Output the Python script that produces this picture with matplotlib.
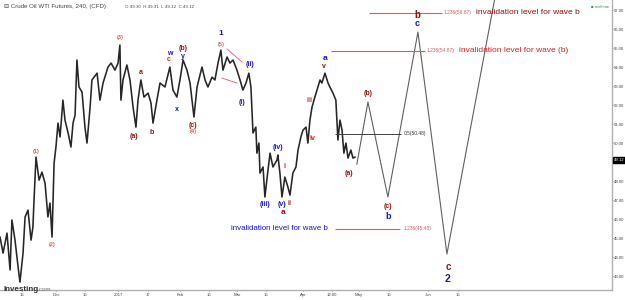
import matplotlib
matplotlib.use("Agg")
from matplotlib import pyplot as plt

plt.rcParams['font.family'] = ['Liberation Sans', 'DejaVu Sans']

# price path (4h candles, traced): x = days since Nov 1 2016
days = [3.3, 4.8, 6.7, 8.2, 9.1, 10.6, 12.1, 13.0, 14.5, 15.5, 16.9, 18.4, 19.3, 19.8,
        20.8, 22.3, 23.7, 25.2, 26.6, 27.6, 28.6, 29.6, 30.5, 31.5, 32.5, 33.9, 34.9,
        36.4, 37.8, 38.8, 39.8, 40.7, 41.7, 43.2, 44.6, 45.6, 47.1, 48.0, 50.5, 51.9,
        53.4, 55.8, 57.3, 59.2, 60.7, 61.6, 62.1, 63.1, 65.0, 66.5, 68.0, 69.4, 70.4,
        71.8, 73.3, 75.3, 76.7, 77.7, 79.6, 81.1, 83.5, 85.9, 87.4, 89.3, 90.8, 92.3,
        94.2, 95.7, 97.6, 99.1, 101.5, 103.0, 104.4, 106.4, 107.8, 109.3, 110.7, 111.7,
        113.7, 115.1, 116.6, 118.5, 120.0, 121.4, 122.9, 124.3, 125.3, 126.3, 127.7,
        128.2, 129.2, 129.7, 131.2, 132.1, 133.6, 134.6, 136.0, 138.0, 138.4, 139.4,
        140.4, 141.8, 143.3, 144.3, 145.7, 147.2, 148.2, 149.6, 150.6, 152.1, 153.0,
        154.0, 155.0, 156.4, 157.9, 158.9, 159.8, 161.3, 162.8, 163.7, 165.2, 166.6,
        167.6, 168.6, 169.6, 170.5, 171.5, 172.5, 173.9, 174.9, 175.9]
price = [45.05, 44.21, 45.26, 43.32, 45.95, 44.89, 43.47, 42.68, 44.21, 46.11, 46.47, 44.89,
         45.58, 46.89, 49.26, 48.05, 48.47, 47.89, 46.11, 46.84, 45.05, 48.95, 49.79, 51.05,
         50.32, 52.26, 51.21, 50.53, 49.79, 51.05, 51.47, 54.37, 52.95, 52.68, 50.84, 50.0,
         51.89, 53.32, 53.68, 52.26, 53.16, 54.0, 54.21, 53.84, 54.21, 55.16, 52.26, 53.32,
         54.11, 53.32, 51.89, 50.84, 52.26, 53.32, 52.42, 52.63, 52.11, 51.05, 52.26, 53.16,
         52.95, 54.0, 52.79, 52.42, 53.32, 54.37, 53.84, 53.16, 51.37, 52.95, 54.0, 53.32,
         52.95, 53.47, 53.32, 54.21, 54.89, 53.84, 54.53, 54.21, 54.37, 53.84, 53.32, 52.79,
         53.16, 53.68, 52.95, 50.53, 50.84, 49.47, 50.0, 48.42, 48.74, 47.16, 48.58, 49.47,
         48.74, 49.11, 49.37, 48.42, 47.16, 48.21, 47.68, 47.26, 48.42, 48.74, 49.63, 50.32,
         50.68, 50.84, 50.0, 51.21, 51.89, 52.42, 52.95, 53.32, 53.16, 53.68, 53.16, 52.95,
         52.63, 52.26, 50.16, 51.21, 50.68, 49.47, 50.0, 49.21, 49.63, 49.21, 49.26]

# projected wave path
proj_days = [176.8, 182.2, 191.9, 206.5, 220.6, 244.0]
proj_price = [48.89, 52.16, 47.16, 55.84, 44.16, 57.68]

tick_days = [14.0, 30.5, 44.6, 60.7, 75.3, 90.8, 104.9, 118.5, 132.6, 150.6, 164.7, 177.8,
             192.4, 211.4, 226.0]
tick_labels = ["15", "Dec", "15", "2017", "17", "Feb", "15", "Mar", "15", "Apr", "12:00",
               "May", "15", "Jun", "15"]
price_ticks = [43, 44, 45, 46, 47, 48, 50, 51, 52, 53, 54, 55, 56, 57]
last_price = 49.12

blue = "#1414d2"
dred = "#9a0f0f"
red = "#e01e1e"
pink = "#e05a5a"
navy = "#1c1c8a"

# wave labels
labels = [
    ("(1)", 20.8, 49.53, pink, 4), ("(2)", 28.6, 44.68, pink, 4), ("(3)", 61.6, 55.53, pink, 4),
    ("a", 71.8, 53.74, dred, 5), ("(a)", 68.4, 50.32, dred, 5), ("b", 77.2, 50.53, dred, 5),
    ("w", 85.9, 54.74, blue, 5), ("c", 85.5, 54.38, red, 5), ("(b)", 92.3, 54.98, dred, 5),
    ("y", 92.3, 54.53, blue, 5), ("x", 89.3, 51.79, blue, 5), ("(c)", 97.1, 50.95, dred, 5),
    ("(4)", 97.1, 50.63, pink, 4), ("1", 110.7, 55.79, navy, 6), ("(5)", 110.7, 55.21, pink, 4),
    ("(i)", 121.0, 52.16, blue, 5), ("(ii)", 124.8, 54.16, blue, 5), ("(iii)", 132.1, 46.79, blue, 5),
    ("(iv)", 138.4, 49.74, blue, 5), ("(v)", 140.4, 46.74, blue, 5), ("a", 140.9, 46.32, dred, 6),
    ("i", 141.4, 48.74, red, 5), ("ii", 144.3, 46.84, dred, 5), ("iii", 154.0, 52.26, red, 5),
    ("iv", 155.0, 50.26, red, 5), ("v", 160.8, 54.05, dred, 5), ("a", 161.3, 54.47, blue, 6),
    ("(a)", 173.0, 48.42, dred, 5), ("(b)", 182.2, 52.63, dred, 5), ("(c)", 191.9, 46.68, dred, 5),
    ("b", 191.9, 46.16, blue, 6.5), ("b", 206.0, 56.72, dred, 7), ("c", 206.0, 56.30, blue, 6.5),
    ("c", 221.1, 43.47, dred, 7), ("2", 221.1, 42.84, navy, 7.5),
]

fig = plt.figure(figsize=(6.25, 3.0), dpi=100)
ax = fig.add_axes([0, 0.033, 0.979, 0.967])

ax.plot(days, price, color="#262626", lw=1.15)
ax.plot(proj_days, proj_price, color="#606060", lw=0.8)

# fib levels
ax.hlines(56.87, 182.7, 218.2, color="#ee5555", lw=0.8)
ax.text(219.1, 56.87, "1.236(56.87)", color=pink, fontsize=3.5, va="center")
ax.text(234.7, 56.87, "invalidation level for wave b", color=dred, fontsize=6, va="center")
ax.hlines(54.87, 164.2, 209.9, color="#ee5555", lw=0.8)
ax.text(210.8, 54.87, "1.236(54.87)", color=pink, fontsize=3.5, va="center")
ax.text(226.4, 54.87, "invalidation level for wave (b)", color=red, fontsize=6, va="center")
ax.hlines(50.48, 166.2, 198.2, color="#404040", lw=0.7)
ax.text(199.7, 50.48, "0.5(50.48)", color="#333333", fontsize=3.5, va="center")
ax.hlines(45.48, 166.2, 197.7, color="#ee5555", lw=0.8)
ax.text(199.7, 45.48, "1.236(45.48)", color=pink, fontsize=3.5, va="center")
ax.text(162.8, 45.48, "invalidation level for wave b", color=blue, fontsize=5.7,
        va="center", ha="right")

# triangle
ax.plot([113.7, 121.0], [54.95, 54.26], color="#ee5555", lw=0.6)
ax.plot([111.2, 118.5], [53.42, 53.16], color="#ee5555", lw=0.6)

for t, x, y, c, s in labels:
    ax.text(x, y, t, color=c, fontsize=s, ha="center", va="center", fontweight="bold")

ax.set_xlim(3.3, 300.8)
ax.set_ylim(42.26, 57.53)
ax.set_xticks(tick_days)
ax.set_xticklabels(tick_labels)
ax.yaxis.tick_right()
ax.set_yticks(price_ticks)
ax.set_yticklabels(["%.2f" % v for v in price_ticks])
ax.tick_params(axis="both", labelsize=3.1, colors="#444444", length=1, width=0.5, pad=0.8)
for s in ["top", "left"]:
    ax.spines[s].set_visible(False)
for s in ["right", "bottom"]:
    ax.spines[s].set_color("#b0b0b0")
    ax.spines[s].set_linewidth(1.0)

# last price tag
ax.text(1.003, last_price, "%.2f" % last_price, transform=ax.get_yaxis_transform(),
        fontsize=3.1, color="white", va="center", ha="left",
        bbox=dict(boxstyle="square,pad=0.2", fc="black", ec="black"))

# header text
fig.text(0.006, 0.978, "\u229f Crude Oil WTI Futures, 240, (CFD)", fontsize=4.4, color="#444444",
         va="center")
fig.text(0.2, 0.978, "O 49.30  H 49.31  L 49.12  C 49.12", fontsize=3.2, color="#444444",
         va="center")
fig.text(0.945, 0.978, "\u25a0 realtime", fontsize=3, color="#2e8b57", va="center")
fig.text(0.006, 0.03, "Investing", fontsize=5.8, color="#333333", fontweight="bold")
fig.text(0.06, 0.03, ".com", fontsize=4.5, color="#777777")

fig.savefig("out.png", dpi=100)
